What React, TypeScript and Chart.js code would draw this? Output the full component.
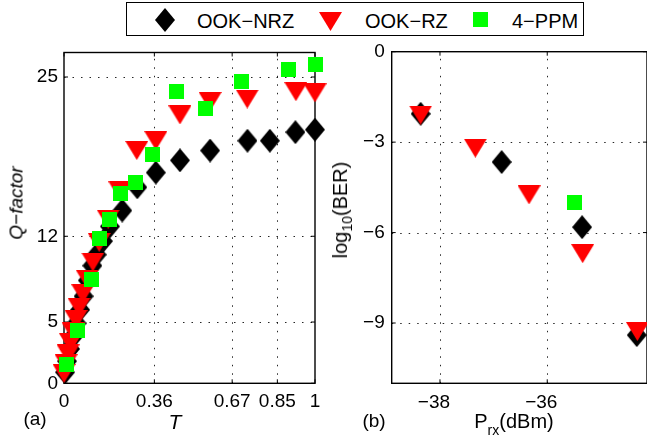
import React, { useEffect, useRef } from 'react';
import { Chart, registerables } from 'chart.js';

Chart.register(...registerables);

const FONT = '"Liberation Sans", Arial, Helvetica, sans-serif';

// ---------- Panel (a): Q-factor vs T ----------
const nrzT = [0.004, 0.012, 0.024, 0.036, 0.05, 0.064, 0.078, 0.095, 0.113, 0.13, 0.155, 0.183, 0.232, 0.292, 0.366, 0.462, 0.582, 0.731, 0.82, 0.922, 1.0];
const nrzQ = [0.9, 1.8, 2.8, 3.8, 4.9, 6.0, 7.1, 8.4, 9.6, 10.5, 11.6, 12.8, 14.1, 16.0, 17.2, 18.2, 19.0, 19.8, 19.8, 20.5, 20.7];
const rzT = [0.0, 0.008, 0.016, 0.026, 0.036, 0.048, 0.06, 0.075, 0.092, 0.115, 0.14, 0.176, 0.223, 0.29, 0.366, 0.462, 0.582, 0.73, 0.924, 1.0];
const rzQ = [0.8, 1.6, 2.4, 3.3, 4.2, 5.2, 6.2, 7.3, 8.5, 9.9, 11.5, 13.4, 15.7, 19.0, 19.8, 21.9, 23.0, 23.2, 23.8, 23.7];
const ppmT = [0.008, 0.054, 0.11, 0.143, 0.18, 0.225, 0.284, 0.353, 0.448, 0.564, 0.706, 0.893, 1.0];
const ppmQ = [1.5, 4.3, 8.5, 11.8, 13.4, 15.5, 16.4, 18.7, 23.8, 22.4, 24.6, 25.6, 26.0];
const aXTicks = [0, 0.36, 0.67, 0.85, 1];
const aYTicks = [0, 5, 12, 25];

// ---------- Panel (b): log10(BER) vs Prx ----------
const nrzP = [-38.36, -36.85, -35.35, -34.33];
const nrzBER = [-2.06, -3.66, -5.82, -9.4];
const rzP = [-38.36, -37.34, -36.34, -35.34, -34.32];
const rzBER = [-2.1, -3.2, -4.75, -6.7, -9.28];
const ppmP = [-35.49];
const ppmBER = [-5.0];
const bXTicks = [-38, -36];
const bYTicks = [0, -3, -6, -9];

const seriesNames = ['OOK\u2212NRZ', 'OOK\u2212RZ', '4\u2212PPM'];
const seriesColors = ['#000000', '#ff0000', '#00ff00'];

function makeMarker(kind: string, color: string) {
  const c = document.createElement('canvas');
  let w = 15, h = 15;
  if (kind === 'diamond') { w = 20; h = 24; }
  else if (kind === 'tri') { w = 23; h = 19; }
  c.width = w; c.height = h;
  const g = c.getContext('2d')!;
  g.fillStyle = color;
  g.beginPath();
  if (kind === 'diamond') {
    g.moveTo(w / 2, 0); g.lineTo(w, h / 2); g.lineTo(w / 2, h); g.lineTo(0, h / 2);
  } else if (kind === 'tri') {
    g.moveTo(0, 0); g.lineTo(w, 0); g.lineTo(w / 2, h);
  } else {
    g.rect(0, 0, w, h);
  }
  g.closePath();
  g.fill();
  return c;
}

const fmtMinus = (v: number) => String(v).replace('-', '\u2212');

const framePlugin = {
  id: 'frame',
  beforeDatasetsDraw(chart: any) {
    const { ctx, chartArea } = chart;
    const { left, top, right, bottom } = chartArea;
    const xs = chart.scales.x, ys = chart.scales.y;
    ctx.save();
    ctx.strokeStyle = 'rgba(0,0,0,0.85)';
    ctx.lineWidth = 1;
    ctx.setLineDash([1.5, 7]);
    xs.ticks.forEach((t: any) => {
      const px = Math.round(xs.getPixelForValue(t.value)) + 0.5;
      if (px > left + 2 && px < right - 2) {
        ctx.beginPath(); ctx.moveTo(px, bottom); ctx.lineTo(px, top); ctx.stroke();
      }
    });
    ys.ticks.forEach((t: any) => {
      const py = Math.round(ys.getPixelForValue(t.value)) + 0.5;
      if (py > top + 2 && py < bottom - 2) {
        ctx.beginPath(); ctx.moveTo(left, py); ctx.lineTo(right, py); ctx.stroke();
      }
    });
    ctx.setLineDash([]);
    ctx.strokeStyle = '#000';
    ctx.lineWidth = 1.4;
    ctx.strokeRect(left, top, right - left, bottom - top);
    ctx.lineWidth = 1;
    const L = 4;
    xs.ticks.forEach((t: any) => {
      const px = xs.getPixelForValue(t.value);
      ctx.beginPath(); ctx.moveTo(px, bottom); ctx.lineTo(px, bottom - L);
      ctx.moveTo(px, top); ctx.lineTo(px, top + L); ctx.stroke();
    });
    ys.ticks.forEach((t: any) => {
      const py = ys.getPixelForValue(t.value);
      ctx.beginPath(); ctx.moveTo(left, py); ctx.lineTo(left + L, py);
      ctx.moveTo(right, py); ctx.lineTo(right - L, py); ctx.stroke();
    });
    ctx.restore();
  },
};

type PanelProps = {
  x: number; width: number; height: number;
  plotLeft: number; plotTop: number; plotRight: number; plotBottom: number;
  xMin: number; xMax: number; yMin: number; yMax: number;
  xTicks: number[]; yTicks: number[];
  series: { xs: number[]; ys: number[] }[];
  xPad: number; yPad: number; xLabelOffset: number;
};

function Panel(p: PanelProps) {
  const ref = useRef<HTMLCanvasElement>(null);
  useEffect(() => {
    const shapes = ['diamond', 'tri', 'square'];
    const datasets = p.series.map((s, i) => ({
      label: seriesNames[i],
      data: s.xs.map((v, j) => ({ x: v, y: s.ys[j] })),
      pointStyle: makeMarker(shapes[i], seriesColors[i]) as any,
      pointRadius: 10,
      pointHoverRadius: 10,
      pointBorderWidth: 0,
      backgroundColor: seriesColors[i],
      borderColor: seriesColors[i],
      showLine: false,
      clip: false as any,
      order: 3 - i,
    }));
    const tickFont = { family: FONT, size: 19 };
    const chart = new Chart(ref.current!, {
      type: 'scatter',
      data: { datasets },
      options: {
        animation: false,
        responsive: false,
        events: [],
        layout: {
          padding: { left: 0, top: p.plotTop, right: p.width - p.plotRight, bottom: 0 },
        },
        plugins: { legend: { display: false }, tooltip: { enabled: false } },
        scales: {
          x: {
            type: 'linear', min: p.xMin, max: p.xMax,
            grid: { display: false, drawTicks: false },
            border: { display: false },
            afterBuildTicks: (s: any) => { s.ticks = p.xTicks.map((v) => ({ value: v })); },
            afterFit: (s: any) => { s.height = p.height - p.plotBottom; },
            ticks: { font: tickFont, color: '#000', padding: p.xPad, labelOffset: p.xLabelOffset, maxRotation: 0, autoSkip: false, callback: (v: any) => fmtMinus(v) },
          },
          y: {
            type: 'linear', min: p.yMin, max: p.yMax,
            grid: { display: false, drawTicks: false },
            border: { display: false },
            afterBuildTicks: (s: any) => { s.ticks = p.yTicks.map((v) => ({ value: v })); },
            afterFit: (s: any) => { s.width = p.plotLeft; },
            ticks: { font: tickFont, color: '#000', padding: p.yPad, autoSkip: false, callback: (v: any) => fmtMinus(v) },
          },
        },
      },
      plugins: [framePlugin],
    });
    return () => chart.destroy();
  }, []);
  return (
    <canvas
      ref={ref}
      width={p.width}
      height={p.height}
      style={{ position: 'absolute', left: p.x, top: 0, width: p.width, height: p.height }}
    />
  );
}

function Label(props: { x: number; y: number; rotate?: boolean; size?: number; italic?: boolean; children: any }) {
  return (
    <div
      style={{
        position: 'absolute', left: props.x, top: props.y,
        transform: `translate(-50%,-50%)${props.rotate ? ' rotate(-90deg)' : ''}`,
        whiteSpace: 'nowrap', lineHeight: 1, fontSize: props.size || 20,
        fontStyle: props.italic ? 'italic' : 'normal', color: '#000',
      }}
    >
      {props.children}
    </div>
  );
}

function LegendMarker({ kind, color, cx, cy }: { kind: string; color: string; cx: number; cy: number }) {
  let w = 15, h = 15, pts = '';
  if (kind === 'diamond') { w = 20; h = 24; pts = `${w / 2},0 ${w},${h / 2} ${w / 2},${h} 0,${h / 2}`; }
  else if (kind === 'tri') { w = 23; h = 19; pts = `0,0 ${w},0 ${w / 2},${h}`; }
  else { pts = `0,0 ${w},0 ${w},${h} 0,${h}`; }
  return (
    <svg width={w} height={h} style={{ position: 'absolute', left: cx - w / 2, top: cy - h / 2 }}>
      <polygon points={pts} fill={color} />
    </svg>
  );
}

export default function App() {
  const sub = (t: string, off: string) => (
    <span style={{ fontSize: '0.7em', position: 'relative', top: off }}>{t}</span>
  );
  const legendTextStyle = (x: number): React.CSSProperties => ({
    position: 'absolute', left: x, top: 21, transform: 'translateY(-50%)',
    fontSize: 20, lineHeight: 1, whiteSpace: 'nowrap',
  });
  return (
    <div style={{ position: 'fixed', left: 0, top: 0, width: 647, height: 443, background: '#fff', fontFamily: FONT, overflow: 'hidden' }}>
      <Panel
        x={0} width={340} height={443}
        plotLeft={64} plotTop={52.5} plotRight={315} plotBottom={383.3}
        xMin={0} xMax={1} yMin={0} yMax={27}
        xTicks={aXTicks} yTicks={aYTicks}
        series={[{ xs: nrzT, ys: nrzQ }, { xs: rzT, ys: rzQ }, { xs: ppmT, ys: ppmQ }]}
        xPad={7} yPad={6} xLabelOffset={0}
      />
      <Panel
        x={340} width={317} height={443}
        plotLeft={51.7} plotTop={51.7} plotRight={307} plotBottom={383.3}
        xMin={-38.9} xMax={-34.14} yMin={-11} yMax={0}
        xTicks={bXTicks} yTicks={bYTicks}
        series={[{ xs: nrzP, ys: nrzBER }, { xs: rzP, ys: rzBER }, { xs: ppmP, ys: ppmBER }]}
        xPad={8} yPad={7} xLabelOffset={-6}
      />
      <Label x={16} y={203} rotate italic size={19}>Q{'\u2212'}factor</Label>
      <Label x={175} y={421} italic size={21}>T</Label>
      <Label x={35} y={418} size={19}>(a)</Label>
      <Label x={340} y={210} rotate size={20}>log{sub('10', '0.35em')}(BER)</Label>
      <Label x={514} y={421} size={20}>P{sub('rx', '0.5em')}(dBm)</Label>
      <Label x={374} y={420} size={19}>(b)</Label>

      <div style={{ position: 'absolute', left: 126, top: 2, width: 458, height: 34, border: '1px solid #000', boxSizing: 'border-box', background: '#fff' }} />
      <LegendMarker kind="diamond" color={seriesColors[0]} cx={165} cy={19.5} />
      <div style={legendTextStyle(197)}>{seriesNames[0]}</div>
      <LegendMarker kind="tri" color={seriesColors[1]} cx={330} cy={21} />
      <div style={legendTextStyle(365)}>{seriesNames[1]}</div>
      <LegendMarker kind="square" color={seriesColors[2]} cx={480} cy={19.5} />
      <div style={legendTextStyle(512)}>{seriesNames[2]}</div>
    </div>
  );
}
